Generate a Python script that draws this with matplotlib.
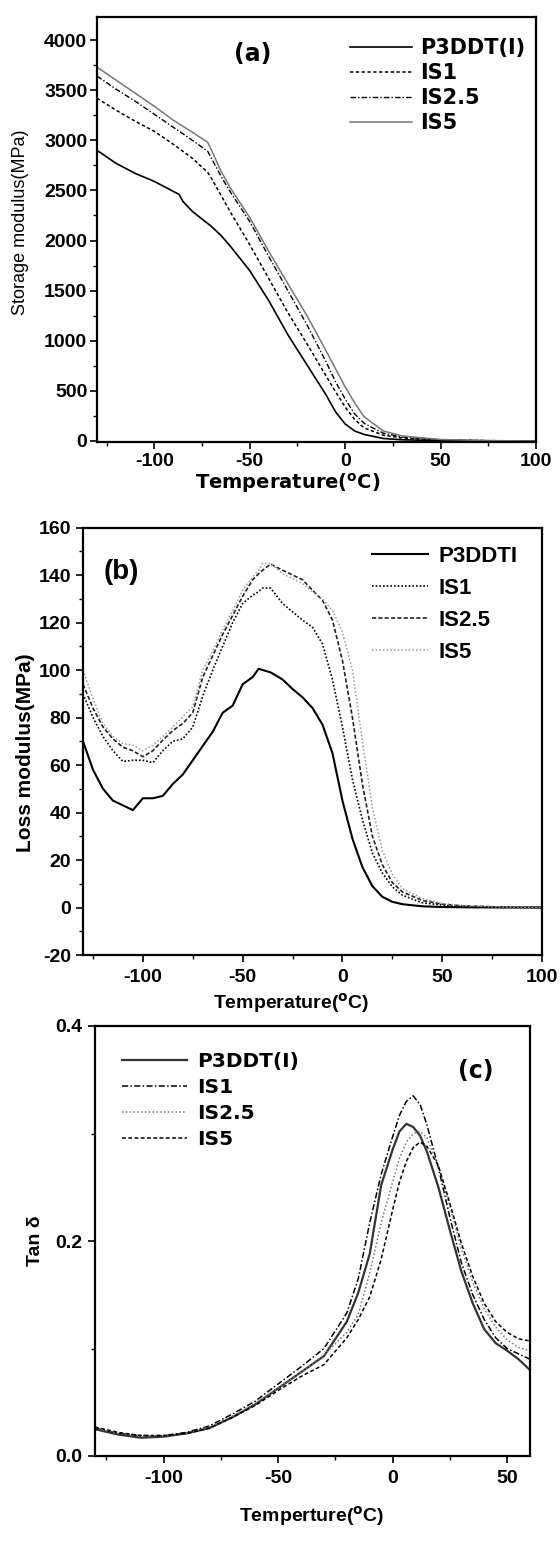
import matplotlib
matplotlib.use('Agg')
import matplotlib.pyplot as plt
from matplotlib.ticker import MultipleLocator

plt.rcParams['axes.unicode_minus'] = False

# ---------------- Panel (a): storage modulus ----------------
T_a = [-130, -120, -110, -100, -90, -87, -85, -80, -72, -70, -65, -60, -50, -40, -30, -20, -10, -5, 0, 5, 10, 20, 30, 50, 75, 100]
a_P3DDT = [2900, 2770, 2670, 2590, 2490, 2460, 2390, 2290, 2170, 2140, 2050, 1940, 1700, 1400, 1060, 760, 460, 290, 170, 100, 65, 25, 12, 4, 1, 0]
a_IS1   = [3420, 3300, 3190, 3090, 2960, 2820, 2680, 2620, 2450, 2280, 1960, 1620, 1280, 970, 650, 490, 340, 215, 130, 58, 30, 10, 3, 0, 0, 0]
a_IS25  = [3640, 3510, 3390, 3260, 3130, 3000, 2890, 2820, 2640, 2480, 2190, 1840, 1500, 1160, 790, 590, 420, 270, 175, 78, 40, 12, 4, 0, 0, 0]
a_IS5   = [3730, 3600, 3470, 3340, 3200, 3080, 2980, 2900, 2690, 2520, 2230, 1890, 1570, 1250, 900, 720, 540, 380, 240, 100, 50, 15, 4, 0, 0, 0]
# T for IS1/IS2.5/IS5 rows (same grid without the -87/-85 kink points)
T_a2 = [-130, -120, -110, -100, -90, -80, -72, -70, -65, -60, -50, -40, -30, -20, -10, -5, 0, 5, 10, 20, 30, 50, 75, 100, 110, 120]
labels_a = ['P3DDT(I)', 'IS1', 'IS2.5', 'IS5']

# ---------------- Panel (b): loss modulus ----------------
T_b = [-130, -125, -120, -115, -110, -105, -100, -95, -90, -85, -80, -75, -70, -65, -60, -55, -50, -45, -42, -40, -36,
       -30, -25, -20, -15, -10, -5, 0, 5, 10, 15, 20, 25, 30, 40, 50, 60, 80, 100]
b_P3DDT = [70, 58, 50, 45, 43, 41, 46, 46, 47, 52, 56, 62, 68, 74, 82, 85, 94, 97, 100.5, 100, 99,
           96, 92, 88.5, 84, 77, 65, 45, 29, 17, 9, 4.5, 2.4, 1.4, 0.5, 0.2, 0.1, 0, 0]
b_IS1 = [90, 80, 72, 66, 61.5, 62, 62, 61, 66, 70, 71, 76, 89, 100, 110, 120, 128, 131.5, 133, 134.5, 134.5,
         128, 124.5, 121, 118, 111, 96, 76, 54, 37, 23, 14.5, 8.7, 5.2, 2, 1, 0.5, 0.1, 0]
b_IS25 = [94, 84, 76, 71, 67.5, 66, 63.5, 66, 70.5, 74.5, 77.5, 82, 97, 106, 115, 123, 131, 138, 140.5, 142, 144.6,
          142, 140, 138, 133.6, 129.4, 121, 104, 80, 52, 30, 18, 10.5, 6.6, 3, 1.4, 0.7, 0.2, 0]
b_IS5 = [100, 88, 77.5, 72, 69, 68.4, 66, 68.4, 72, 76, 80.3, 84.5, 100, 108, 117, 125, 133.6, 139, 142, 145, 144.8,
         140.6, 138.5, 136.4, 133, 130, 125, 116, 100, 70, 42, 24, 14, 8, 3.8, 1.7, 0.8, 0.2, 0]
labels_b = ['P3DDTI', 'IS1', 'IS2.5', 'IS5']

# ---------------- Panel (c): tan delta ----------------
T_c = [-130, -120, -110, -100, -90, -80, -70, -60, -50, -40, -30, -20, -15, -10, -5, 0, 3, 6, 9, 12, 15,
       20, 25, 30, 35, 40, 45, 50, 55, 60]
c_P3DDT = [0.025, 0.020, 0.017, 0.018, 0.021, 0.026, 0.036, 0.048, 0.063, 0.078, 0.093, 0.125, 0.152, 0.188, 0.252,
           0.285, 0.302, 0.309, 0.306, 0.298, 0.283, 0.25, 0.21, 0.172, 0.142, 0.118, 0.105, 0.098, 0.090, 0.080]
c_IS1 = [0.026, 0.021, 0.019, 0.019, 0.022, 0.028, 0.039, 0.051, 0.067, 0.083, 0.100, 0.133, 0.165, 0.217, 0.262,
         0.297, 0.317, 0.330, 0.335, 0.327, 0.308, 0.268, 0.222, 0.180, 0.150, 0.127, 0.110, 0.100, 0.095, 0.090]
c_IS25 = [0.026, 0.021, 0.019, 0.019, 0.021, 0.027, 0.037, 0.049, 0.063, 0.078, 0.094, 0.115, 0.132, 0.170, 0.217,
          0.255, 0.277, 0.292, 0.300, 0.302, 0.296, 0.270, 0.232, 0.193, 0.162, 0.137, 0.120, 0.108, 0.101, 0.098]
c_IS5 = [0.027, 0.022, 0.019, 0.019, 0.021, 0.026, 0.036, 0.047, 0.061, 0.074, 0.085, 0.110, 0.127, 0.148, 0.183,
         0.229, 0.255, 0.274, 0.287, 0.292, 0.288, 0.270, 0.235, 0.198, 0.167, 0.142, 0.125, 0.115, 0.109, 0.107]
labels_c = ['P3DDT(I)', 'IS1', 'IS2.5', 'IS5']

W, H = 560, 1541
fig = plt.figure(figsize=(W / 100, H / 100), dpi=100)
fig.patch.set_facecolor('white')


def rect(left, right, top, bottom):
    return [left / W, 1 - bottom / H, (right - left) / W, (bottom - top) / H]


def style(ax, fam, size, pad_x, pad_y):
    for s in ax.spines.values():
        s.set_linewidth(1.6)
        s.set_color('black')
    ax.tick_params(which='both', direction='out', top=False, right=False, width=1.2, colors='black')
    ax.tick_params(which='major', length=5)
    ax.tick_params(which='minor', length=3, width=1.0)
    ax.tick_params(axis='x', pad=pad_x)
    ax.tick_params(axis='y', pad=pad_y)
    for lab in ax.get_xticklabels() + ax.get_yticklabels():
        lab.set_fontfamily(fam)
        lab.set_fontweight('bold')
        lab.set_fontsize(size)


# ---------- (a) ----------
axA = fig.add_axes(rect(97, 536, 17, 442))
axA.plot(T_a, a_P3DDT, color='black', lw=1.2, label=labels_a[0])
axA.plot(T_a2[:len(a_IS1)], a_IS1, color='black', lw=1.1, dashes=(2.2, 1.6), label=labels_a[1])
axA.plot(T_a2[:len(a_IS25)], a_IS25, color='black', lw=1.0, dashes=(4, 1.5, 1, 1.5), label=labels_a[2])
axA.plot(T_a2[:len(a_IS5)], a_IS5, color='#777777', lw=1.1, label=labels_a[3])
axA.set_xlim(-130, 100)
axA.set_ylim(-10, 4230)
axA.xaxis.set_major_locator(MultipleLocator(50))
axA.xaxis.set_minor_locator(MultipleLocator(25))
axA.yaxis.set_major_locator(MultipleLocator(500))
axA.yaxis.set_minor_locator(MultipleLocator(250))
style(axA, 'Liberation Sans', 14, 3, 2)
axA.set_xlabel('Temperature($\\mathbf{^{o}}$C)', fontfamily='DejaVu Sans', fontweight='bold', fontsize=14, va='center')
axA.xaxis.set_label_coords(0.435, -0.096)
axA.set_ylabel('Storage modulus(MPa)', fontfamily='Liberation Sans', fontsize=13, va='center')
axA.yaxis.set_label_coords(-0.175, 0.516)
axA.text(0.355, 0.913, '(a)', transform=axA.transAxes, ha='center', va='center',
         fontfamily='DejaVu Sans', fontweight='bold', fontsize=17)
axA.legend(loc='upper left', bbox_to_anchor=(0.576, 0.951), frameon=False, borderpad=0, borderaxespad=0,
           handlelength=2.98, handletextpad=0.38, labelspacing=0.24,
           prop={'family': 'DejaVu Sans', 'weight': 'bold', 'size': 15})

# ---------- (b) ----------
axB = fig.add_axes(rect(83, 542, 527.5, 955))
axB.plot(T_b, b_P3DDT, color='black', lw=1.5, label=labels_b[0])
axB.plot(T_b, b_IS1, color='black', lw=1.2, dashes=(1, 1.2), label=labels_b[1])
axB.plot(T_b, b_IS25, color='#222222', lw=1.2, dashes=(2.5, 1.3), label=labels_b[2])
axB.plot(T_b, b_IS5, color='#999999', lw=1.1, dashes=(1, 1.4), label=labels_b[3])
axB.set_xlim(-130, 100)
axB.set_ylim(-20, 160)
axB.xaxis.set_major_locator(MultipleLocator(50))
axB.xaxis.set_minor_locator(MultipleLocator(25))
axB.yaxis.set_major_locator(MultipleLocator(20))
axB.yaxis.set_minor_locator(MultipleLocator(10))
style(axB, 'Liberation Sans', 14, 5, 3.5)
axB.set_xlabel('Temperature($\\mathbf{^{o}}$C)', fontfamily='Liberation Sans', fontweight='bold', fontsize=14, va='center')
axB.xaxis.set_label_coords(0.453, -0.112)
axB.set_ylabel('Loss modulus(MPa)', fontfamily='Liberation Sans', fontweight='bold', fontsize=15, va='center')
axB.yaxis.set_label_coords(-0.126, 0.474)
axB.text(0.084, 0.896, '(b)', transform=axB.transAxes, ha='center', va='center',
         fontfamily='Liberation Sans', fontweight='bold', fontsize=20)
axB.legend(loc='upper left', bbox_to_anchor=(0.630, 0.957), frameon=False, borderpad=0, borderaxespad=0,
           handlelength=2.52, handletextpad=0.45, labelspacing=0.5,
           prop={'family': 'Liberation Sans', 'weight': 'bold', 'size': 16})

# ---------- (c) ----------
axC = fig.add_axes(rect(95, 530, 1026, 1456))
axC.plot(T_c, c_P3DDT, color='#333333', lw=1.6, label=labels_c[0])
axC.plot(T_c, c_IS1, color='black', lw=1.1, dashes=(4, 1.5, 1, 1.5), label=labels_c[1])
axC.plot(T_c, c_IS25, color='#777777', lw=1.1, dashes=(1, 1.5), label=labels_c[2])
axC.plot(T_c, c_IS5, color='black', lw=1.1, dashes=(2.5, 1.6), label=labels_c[3])
axC.set_xlim(-130, 60)
axC.set_ylim(0, 0.4)
axC.xaxis.set_major_locator(MultipleLocator(50))
axC.xaxis.set_minor_locator(MultipleLocator(25))
axC.yaxis.set_major_locator(MultipleLocator(0.2))
axC.yaxis.set_minor_locator(MultipleLocator(0.1))
style(axC, 'Liberation Sans', 14, 5, 4)
axC.set_xlabel('Temperture($\\mathbf{^{o}}$C)', fontfamily='Liberation Sans', fontweight='bold', fontsize=14, va='center')
axC.xaxis.set_label_coords(0.498, -0.14)
axC.set_ylabel('Tan δ', fontfamily='Liberation Sans', fontweight='bold', fontsize=14, va='center')
axC.yaxis.set_label_coords(-0.136, 0.5)
axC.text(0.876, 0.895, '(c)', transform=axC.transAxes, ha='center', va='center',
         fontfamily='DejaVu Sans', fontweight='bold', fontsize=17)
axC.legend(loc='upper left', bbox_to_anchor=(0.062, 0.94), frameon=False, borderpad=0, borderaxespad=0,
           handlelength=3.23, handletextpad=0.5, labelspacing=0.35,
           prop={'family': 'DejaVu Sans', 'weight': 'bold', 'size': 14.5})

fig.savefig('out.png', dpi=100)
